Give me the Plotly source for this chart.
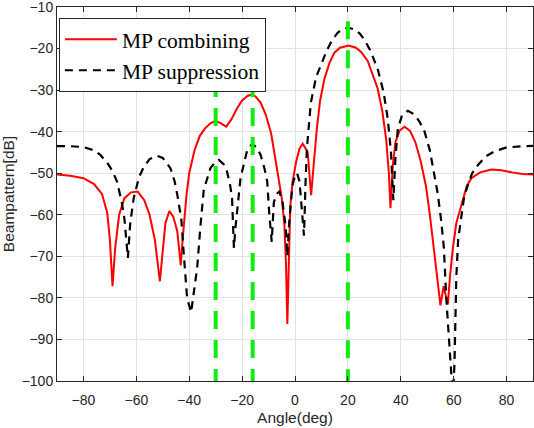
import plotly.graph_objects as go

# MP combining (red solid)
comb_angle = [-90, -85, -80, -76, -73, -71, -70, -69, -68, -66.5, -64.5, -62, -59.5, -57, -55, -53, -51.1,
              -50, -49, -47.5, -46, -44.5, -43.2, -42.5, -42, -41, -40, -38, -36, -34, -32, -30, -28, -26,
              -24, -22, -20, -18, -16.5, -15, -13, -11, -9, -7.5, -6.5, -5, -4, -3.4, -2.9, -2.3, -1.8,
              -0.9, 0.4, 1.7, 2.9, 4.8, 6.1, 7.2, 8.3, 9.5, 11.1, 13, 14.9, 17, 20.3, 23, 25, 27.5, 29.5,
              31.2, 33, 34.5, 35.5, 36.1, 37, 38, 39.5, 41.4, 43.5, 45.5, 47.5, 49.5, 51, 52.5, 53.8, 55,
              56.2, 57.8, 58.6, 59.7, 61, 62.9, 65, 66.7, 70, 74.3, 78, 82, 86, 90]
comb_db = [-50.3, -50.6, -51.2, -52.6, -55, -59.5, -66, -77.2, -68, -60, -56, -54.6, -54.4, -56.5, -60, -66, -76.0,
           -68, -62, -59.1, -60.5, -64, -72.2, -66, -62, -55, -50, -44.5, -41, -39.2, -38, -37.4, -38, -38.8,
           -37, -34.5, -32.5, -31.4, -31.1, -31.5, -33, -36, -40.5, -46, -50, -56, -62.5, -72, -86.3, -70, -58,
           -52, -47.3, -44.1, -42.9, -44.9, -55.3, -47, -39, -32.5, -27.4, -23.5, -21, -19.8, -19.3, -19.8, -20.8, -23, -26.5,
           -29.5, -35, -42, -50, -58.4, -48, -42.5, -39.8, -38.8, -39.8, -42.5, -47, -53, -60, -68, -75, -81.8,
           -77.2, -81.6, -75, -68, -62, -57.6, -53, -51.2, -49.8, -49.1, -49.3, -49.8, -50.2, -50.3]

# MP suppression (black dashed)
supp_angle = [-90, -85, -80, -76, -73.6, -71, -69, -67.3, -65.5, -64.5, -63.2, -62.3, -61, -59, -57.2, -55,
              -52.3, -50, -47.1, -45.5, -44.5, -43, -42, -40.8, -39.3, -38, -37, -35.8, -34.5, -32, -30, -28.8,
              -27, -25.7, -24.5, -23.8, -23.1, -22.5, -21.5, -20.6, -18.1, -16.2, -14.5, -13, -11.5, -10.5,
              -9.7, -8.8, -8, -7, -5.9, -4.7, -3.5, -2.9, -2.2, -1, 0, 0.8, 1.7, 2.6, 3.4, 4, 4.5, 6, 8, 9.8,
              12, 14, 16.1, 18, 20.3, 22.5, 24.5, 26.2, 28.5, 31.3, 33.5, 35.1, 36.3, 37.2, 38, 38.9, 40.5,
              42.7, 45, 47, 49, 51, 52.8, 54, 55.3, 56.3, 57.2, 58.2, 59.1, 59.7, 60.3, 61, 61.7, 62.9, 64,
              65.4, 67, 69.2, 72, 75.5, 80, 86, 90]
supp_db = [-43.5, -43.5, -43.7, -44.5, -45.6, -47.5, -49.5, -52, -57, -61, -70.4, -62, -56, -51, -48.5, -46.6,
           -45.8, -46.3, -48.8, -52, -55.2, -61, -70, -80, -83.5, -78, -72.8, -63, -54, -48.8, -47.2, -46.8,
           -47.8, -49.6, -53, -56, -68, -63, -56, -51.2, -44.5, -42.9, -43.8, -45.6, -49, -52,
           -60, -66.5, -57, -55, -54.4, -57, -63, -70, -62, -53, -50.5, -50, -52, -58, -65, -52, -44, -33, -26.8, -24,
           -20.5, -18, -16.2, -15.3, -15, -15.4, -16.4, -17.8, -20.5, -25, -30.5, -37, -45, -56.5, -46, -39.3, -36,
           -35, -35.8, -37.5, -40, -44.5, -50.5, -55, -61.5, -68, -80, -90, -97, -104, -96, -75, -66, -60, -55.5,
           -52.8, -50, -48, -46, -44.7, -43.8, -43.5, -43.4]

# green markers at the target directions
mark_angle = [-30, -16, 20]
mark_top = [-27.3, -27.3, -13.4]

fig = go.Figure()

fig.add_trace(go.Scatter(x=comb_angle, y=comb_db, mode='lines', name='MP combining',
                         line=dict(color='#ff0000', width=2)))
fig.add_trace(go.Scatter(x=supp_angle, y=supp_db, mode='lines', name='MP suppression',
                         line=dict(color='#000000', width=2.2, dash='8px,6px')))

for a, top in zip(mark_angle, mark_top):
    fig.add_trace(go.Scatter(x=[a, a], y=[top, -100], mode='lines', showlegend=False,
                             line=dict(color='#10ee10', width=4, dash='18px,11px')))

axis_style = dict(showline=True, linecolor='#262626', linewidth=1, mirror='ticks', ticks='inside',
                  ticklen=5, tickcolor='#262626', showgrid=True, gridcolor='#e3e3e3', zeroline=False,
                  automargin=False, ticklabeloverflow='allow',
                  tickfont=dict(family='Liberation Sans', size=14, color='#262626'))

fig.update_xaxes(range=[-90, 90], tickvals=[-80, -60, -40, -20, 0, 20, 40, 60, 80], ticklabelstandoff=6,
                 title=dict(text='Angle(deg)', font=dict(family='Liberation Sans', size=15.5, color='#262626'),
                            standoff=5), **axis_style)
fig.update_yaxes(range=[-100, -10], tickvals=list(range(-100, 0, 10)), ticklabelstandoff=0,
                 title=dict(text='Beampattern[dB]', font=dict(family='Liberation Sans', size=15.5, color='#262626'),
                            standoff=6), **axis_style)

fig.update_layout(
    width=534, height=428,
    margin=dict(l=57, r=1, t=7, b=47),
    plot_bgcolor='white', paper_bgcolor='white',
    showlegend=True,
    legend=dict(x=0.004, y=0.971, xanchor='left', yanchor='top', bgcolor='white',
                bordercolor='#262626', borderwidth=1,
                font=dict(family='Liberation Serif', size=21.5, color='#000000'),
                tracegroupgap=0, itemwidth=52)
)

# page margin off so the 534x428 figure fills the window
fig.write_html("out.html", config={'displayModeBar': False},
               post_script="document.body.style.margin='0';")
